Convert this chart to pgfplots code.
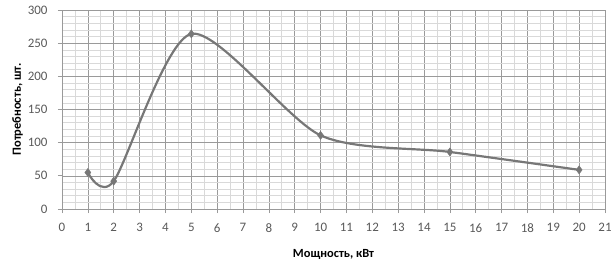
\documentclass[border=0pt]{standalone}
\usepackage{pgfplots}
\pgfplotsset{compat=1.18}
\usepackage{fontspec}
\setmainfont{Carlito}
\definecolor{linegray}{HTML}{777777}
\definecolor{majgrid}{HTML}{9A9A9A}
\definecolor{mingrid}{HTML}{D9D9D9}
\definecolor{ticktext}{HTML}{595959}
\begin{document}
\begin{tikzpicture}
\begin{axis}[
  scale only axis,
  width=543bp, height=199bp,
  xmin=0, xmax=21, ymin=0, ymax=300,
  xtick={0,1,...,21}, ytick={0,50,...,300},
  minor x tick num=1, minor y tick num=4,
  grid=both,
  major grid style={majgrid, line width=0.6pt},
  minor grid style={mingrid, line width=0.6pt},
  axis x line*=bottom, axis y line*=left,
  axis line style={majgrid, line width=0.7pt},
  tick align=outside,
  major tick length=4bp, minor tick length=0pt,
  major tick style={majgrid, line width=0.7pt},
  minor tick style={draw=none},
  ticklabel style={font=\fontsize{13}{15}\selectfont, text=ticktext},
  /pgf/number format/assume math mode=true,
  xticklabel style={yshift=-7bp},
  yticklabel style={xshift=-7bp},
  xlabel={\textbf{Мощность, кВт}},
  ylabel={\textbf{Потребность, шт.}},
  label style={font=\fontsize{12.5}{14}\selectfont, text=black},
  xlabel style={at={(axis description cs:0.5,0)}, anchor=center, yshift=-45bp},
  ylabel style={yshift=-2bp},
]
\addplot[linegray, line width=2.2pt, smooth, tension=0.45, mark=diamond*, mark size=4bp, mark options={fill=linegray, draw=linegray, line width=0.5pt}] coordinates {
(1,55) (2,42) (5,264) (10,111) (15,86) (20,59)
};
\end{axis}
\pgfresetboundingbox
\path ([shift={(-62bp,-55bp)}]current axis.south west) rectangle ([shift={(7bp,10bp)}]current axis.north east);
\end{tikzpicture}
\end{document}
